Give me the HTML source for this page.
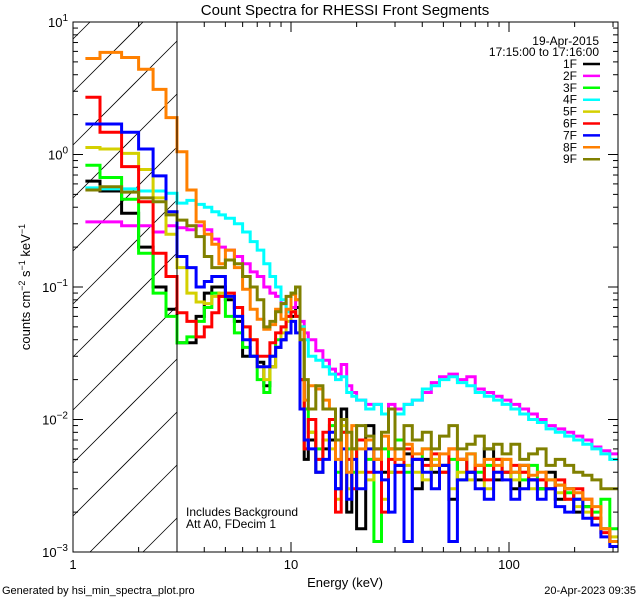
<!DOCTYPE html>
<html><head><meta charset="utf-8"><style>
html,body{margin:0;padding:0;background:#fff;width:640px;height:600px;overflow:hidden;}
svg{display:block;font-family:"Liberation Sans",sans-serif;}
</style></head><body>
<svg id="chart" width="640" height="600" viewBox="0 0 640 600" xmlns="http://www.w3.org/2000/svg">
<rect width="640" height="600" fill="#fff"/>
<defs><clipPath id="plotclip"><rect x="73" y="22" width="545" height="530"/></clipPath></defs>
<g id="hatch"></g>
<g id="series" clip-path="url(#plotclip)"></g>
<g id="axes"></g>
<text x="345" y="15" text-anchor="middle" font-size="15">Count Spectra for RHESSI Front Segments</text>
<text x="345" y="587" text-anchor="middle" font-size="13">Energy (keV)</text>
<text transform="translate(30,287) rotate(-90)" text-anchor="middle" font-size="13">counts cm<tspan dy="-5" font-size="9">−2</tspan><tspan dy="5"> s</tspan><tspan dy="-5" font-size="9">−1</tspan><tspan dy="5"> keV</tspan><tspan dy="-5" font-size="9">−1</tspan></text>
<text x="599" y="45" text-anchor="end" font-size="12">19-Apr-2015</text>
<text x="599" y="56" text-anchor="end" font-size="12">17:15:00 to 17:16:00</text>
<g id="legend"></g>
<text x="186" y="516" font-size="12">Includes Background</text>
<text x="186" y="528" font-size="12">Att A0, FDecim 1</text>
<text x="2" y="594" font-size="11">Generated by hsi_min_spectra_plot.pro</text>
<text x="636" y="594" text-anchor="end" font-size="11">20-Apr-2023 09:35</text>
<line x1="177" y1="22" x2="177" y2="552" stroke="#000" stroke-width="1"/>
</svg>
<script>
const edges=[1.14,1.33,1.67,2,2.33,2.67,3,3.33,3.67,4,4.33,4.67,5,5.5,6,6.5,7,7.5,8,8.5,9,9.5,10,10.5,11,11.5,12,13,14,15,16,17,18,19,20,22,24,26,28,30,33,36,40,44,48,53,58,64,70,77,85,93,102,112,123,135,148,163,180,198,218,240,264,290,316];
const segNames=['1F','2F','3F','4F','5F','6F','7F','8F','9F'];
const segColors=['#000000','#ff00ff','#00ff00','#00ffff','#d4d000','#ff0000','#0000ff','#ff8000','#808000'];
const s1F=[0.63,0.53,0.36,0.2,0.1,0.068,0.038,0.038,0.06,0.09,0.1,0.1,0.08,0.055,0.03,0.03,0.027,0.018,0.025,0.035,0.04,0.045,0.06,0.07,0.02,0.005,0.007,0.004,0.006,
0.007,0.003,0.012,0.002,0.006,0.0015,0.009,0.005,0.004,0.006,0.0045,0.0055,0.003,0.005,0.004,0.0045,0.0025,0.005,0.004,0.0035,0.006,0.0035,0.004,0.003,0.0045,0.0035,0.003,0.004,0.0025,0.003,0.002,0.0022,0.0018,0.0015,0.0012];
const s2F=[0.31,0.31,0.29,0.29,0.26,0.29,0.28,0.27,0.29,0.27,0.23,0.2,0.19,0.17,0.15,0.13,0.12,0.1,0.09,0.085,0.075,0.065,0.07,0.08,0.055,0.045,0.04,0.033,0.028,
0.024,0.022,0.026,0.018,0.016,0.014,0.013,0.013,0.011,0.013,0.012,0.013,0.014,0.016,0.019,0.021,0.022,0.02,0.021,0.017,0.016,0.015,0.014,0.013,0.012,0.011,0.01,0.009,0.0085,0.008,0.0075,0.007,0.0062,0.0058,0.0055];
const s3F=[0.83,0.67,0.46,0.18,0.09,0.06,0.038,0.042,0.055,0.07,0.09,0.085,0.06,0.045,0.035,0.03,0.02,0.016,0.03,0.04,0.05,0.06,0.09,0.1,0.05,0.012,0.008,0.006,0.007,
0.009,0.004,0.008,0.006,0.004,0.007,0.005,0.0012,0.006,0.004,0.007,0.004,0.005,0.006,0.0045,0.004,0.005,0.0035,0.0055,0.004,0.0045,0.005,0.004,0.004,0.0035,0.0045,0.003,0.0035,0.0032,0.0028,0.0025,0.0022,0.002,0.0025,0.0015];
const s4F=[0.56,0.55,0.55,0.53,0.53,0.51,0.43,0.45,0.42,0.4,0.37,0.35,0.33,0.3,0.26,0.22,0.19,0.15,0.12,0.1,0.08,0.065,0.065,0.06,0.05,0.04,0.03,0.028,0.025,
0.022,0.02,0.021,0.016,0.015,0.014,0.012,0.013,0.011,0.012,0.011,0.013,0.014,0.017,0.018,0.02,0.021,0.019,0.018,0.016,0.015,0.014,0.013,0.012,0.011,0.01,0.0095,0.0085,0.008,0.0075,0.007,0.0065,0.006,0.0055,0.005];
const s5F=[1.13,1.1,1.02,0.77,0.47,0.25,0.14,0.09,0.077,0.075,0.085,0.09,0.085,0.07,0.05,0.04,0.025,0.02,0.025,0.035,0.045,0.055,0.065,0.06,0.02,0.006,0.008,0.005,0.007,
0.006,0.0025,0.009,0.003,0.006,0.004,0.0035,0.005,0.0025,0.004,0.006,0.0045,0.004,0.0035,0.005,0.004,0.003,0.004,0.0035,0.0045,0.003,0.004,0.005,0.0035,0.004,0.003,0.0035,0.003,0.0028,0.0025,0.0022,0.002,0.0018,0.0015,0.0013];
const s6F=[2.7,1.47,0.81,0.44,0.18,0.12,0.064,0.055,0.042,0.05,0.064,0.085,0.09,0.07,0.05,0.04,0.03,0.03,0.038,0.045,0.05,0.06,0.065,0.06,0.02,0.006,0.01,0.005,0.008,
0.01,0.002,0.008,0.005,0.003,0.007,0.004,0.006,0.002,0.005,0.004,0.006,0.005,0.0045,0.0055,0.004,0.006,0.005,0.004,0.0045,0.0035,0.005,0.004,0.0045,0.004,0.0035,0.0035,0.003,0.0035,0.0025,0.003,0.0025,0.0018,0.0014,0.0012];
const s7F=[1.7,1.7,1.47,1.1,0.69,0.37,0.17,0.14,0.1,0.11,0.12,0.12,0.085,0.06,0.04,0.03,0.025,0.025,0.03,0.035,0.04,0.045,0.055,0.045,0.012,0.007,0.006,0.004,0.005,
0.008,0.003,0.006,0.0025,0.005,0.003,0.006,0.004,0.0035,0.002,0.0045,0.0012,0.005,0.004,0.003,0.0045,0.0012,0.0035,0.004,0.003,0.0025,0.004,0.0035,0.0025,0.003,0.0035,0.0025,0.003,0.0022,0.002,0.0025,0.0018,0.0016,0.0013,0.0011];
const s8F=[5.3,5.9,5.4,4.4,3.1,1.9,1.05,0.54,0.31,0.25,0.21,0.15,0.19,0.14,0.096,0.068,0.057,0.048,0.052,0.068,0.057,0.068,0.088,0.08,0.048,0.014,0.018,0.017,0.014,
0.012,0.005,0.01,0.004,0.009,0.006,0.007,0.005,0.0075,0.006,0.005,0.0065,0.0055,0.006,0.0045,0.0055,0.006,0.005,0.0055,0.0045,0.005,0.0045,0.005,0.004,0.0045,0.0038,0.004,0.0035,0.0032,0.003,0.0028,0.0025,0.0022,0.0015,0.0012];
const s9F=[0.54,0.57,0.52,0.47,0.44,0.35,0.32,0.29,0.24,0.17,0.14,0.14,0.16,0.15,0.12,0.1,0.08,0.05,0.055,0.065,0.075,0.085,0.09,0.1,0.04,0.02,0.012,0.018,0.012,
0.012,0.007,0.01,0.008,0.006,0.009,0.0075,0.006,0.008,0.012,0.006,0.009,0.007,0.008,0.006,0.0075,0.009,0.006,0.0065,0.0075,0.006,0.0065,0.0055,0.0065,0.005,0.0055,0.006,0.0045,0.005,0.0045,0.004,0.0038,0.0035,0.003,0.003];
const seriesValues=[s1F,s2F,s3F,s4F,s5F,s6F,s7F,s8F,s9F];
const xTickMajor=[1,10,100];
const xTickLabels=['1','10','100'];
const yTickExp=[1,0,-1,-2,-3];

const NS='http://www.w3.org/2000/svg';
const X0=73,X1=618,Y0=22,Y1=552;
const xMin=1,xMax=316.2,yMin=1e-3,yMax=10;
function xs(e){return X0+(Math.log10(e)-Math.log10(xMin))/(Math.log10(xMax)-Math.log10(xMin))*(X1-X0);}
function ys(v){return Y1-(Math.log10(v)-Math.log10(yMin))/(Math.log10(yMax)-Math.log10(yMin))*(Y1-Y0);}
function mk(tag,attrs,parent){const el=document.createElementNS(NS,tag);for(const k in attrs)el.setAttribute(k,attrs[k]);parent.appendChild(el);return el;}

// hatch lines, clipped analytically to the 1-3 keV region
const hatch=document.getElementById('hatch');
const HX1=177;
for(let c=-600;c<600;c+=53){
  // line: y = Y1 - c - (x - X0)
  const xa=Math.max(X0, X0 - c);
  const xb=Math.min(HX1, X0 + Y1 - c - Y0);
  if(xb<=xa) continue;
  const ya=Y1-c-(xa-X0), yb=Y1-c-(xb-X0);
  const ln=mk('line',{x1:xa,y1:ya,x2:xb,y2:yb,stroke:'#000','stroke-width':0.8},hatch);
  
  
}

const sg=document.getElementById('series');
seriesValues.forEach((vals,i)=>{
  let d='';
  for(let b=0;b<vals.length;b++){
    const v=Math.max(vals[b],9e-4);
    const xa=xs(edges[b]),xb=xs(edges[b+1]),y=ys(v);
    d+=(b===0?'M':'L')+xa.toFixed(1)+','+y.toFixed(1)+'L'+xb.toFixed(1)+','+y.toFixed(1);
  }
  const p=mk('path',{d:d,fill:'none',stroke:segColors[i],'stroke-width':3,'stroke-linejoin':'miter'},sg);
  
  
});

const ax=document.getElementById('axes');
const fr=mk('rect',{x:X0,y:Y0,width:X1-X0,height:Y1-Y0,fill:'none',stroke:'#000','stroke-width':1},ax);


for(let dec=0;dec<3;dec++){
  for(let m=1;m<10;m++){
    const e=Math.pow(10,dec)*m; if(e>xMax) break;
    const x=xs(e),len=m===1?10:5;
    const t1=mk('line',{x1:x,y1:Y1,x2:x,y2:Y1-len,stroke:'#000'},ax);
    
    
    const t2=mk('line',{x1:x,y1:Y0,x2:x,y2:Y0+len,stroke:'#000'},ax);
    
    
  }
}
xTickMajor.forEach((e,i)=>{
  const t=mk('text',{x:xs(e),y:Y1+17,'text-anchor':'middle','font-size':13},ax);
  t.textContent=xTickLabels[i];
  
  
});
for(let dec=-3;dec<1;dec++){
  for(let m=1;m<10;m++){
    const v=Math.pow(10,dec)*m;
    const y=ys(v),len=m===1?10:5;
    const t1=mk('line',{x1:X0,y1:y,x2:X0+len,y2:y,stroke:'#000'},ax);
    
    
    const t2=mk('line',{x1:X1,y1:y,x2:X1-len,y2:y,stroke:'#000'},ax);
    
    
  }
}
yTickExp.forEach(ex=>{
  const y=ys(Math.pow(10,ex));
  const t=mk('text',{x:X0-5,y:y+5,'text-anchor':'end','font-size':13},ax);
  
  
  t.innerHTML='10<tspan dy="-6" font-size="10">'+(ex<0?'−'+(-ex):ex)+'</tspan>';
});

const lg=document.getElementById('legend');
segNames.forEach((n,i)=>{
  const y=64+i*11.9;
  const t=mk('text',{x:577,y:y+4,'text-anchor':'end','font-size':12},lg);
  t.textContent=n;
  
  
  const l=mk('line',{x1:583,y1:y,x2:600,y2:y,stroke:segColors[i],'stroke-width':2.5},lg);
  
  
});
</script>
</body></html>
